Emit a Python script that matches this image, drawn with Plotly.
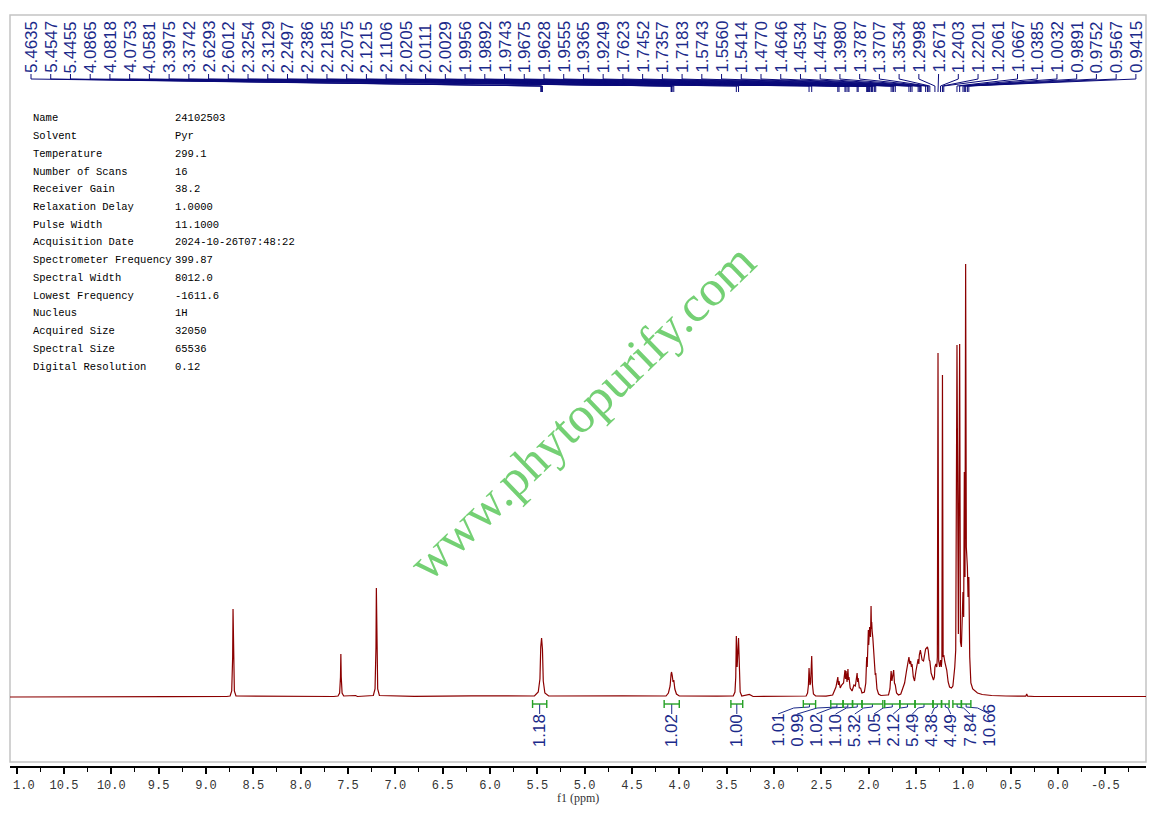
import plotly.graph_objects as go

# --- data -----------------------------------------------------------------
# peak picking list (ppm)
peak_shifts = [5.4635, 5.4547, 5.4455, 4.0865, 4.0818, 4.0753, 4.0581, 3.3975, 3.3742,
               2.6293, 2.6012, 2.3254, 2.3129, 2.2497, 2.2386, 2.2185, 2.2075, 2.1215,
               2.1106, 2.0205, 2.0111, 2.0029, 1.9956, 1.9892, 1.9743, 1.9675, 1.9628,
               1.9555, 1.9365, 1.9249, 1.7623, 1.7452, 1.7357, 1.7183, 1.5743, 1.5560,
               1.5414, 1.4770, 1.4646, 1.4534, 1.4457, 1.3980, 1.3787, 1.3707, 1.3534,
               1.2998, 1.2671, 1.2403, 1.2201, 1.2061, 1.0667, 1.0385, 1.0032, 0.9891,
               0.9752, 0.9567, 0.9415]

# spectrum outline (ppm, intensity) read point by point
spec_ppm = [11.07, 10.20, 9.40, 8.78,
            8.745, 8.728, 8.718, 8.714, 8.710, 8.700, 8.683, 8.20,
            7.65, 7.605, 7.588, 7.579, 7.575, 7.571, 7.562, 7.545,
            7.42, 7.40, 7.26,
            7.232, 7.214, 7.204, 7.200, 7.196, 7.186, 7.168,
            6.80, 6.20, 5.80,
            5.53, 5.49, 5.472, 5.4635, 5.4547, 5.4455, 5.437, 5.42, 5.38,
            4.60,
            4.14, 4.115, 4.097, 4.0865, 4.0818, 4.0753, 4.066, 4.0581, 4.047, 4.03, 4.00,
            3.60,
            3.43, 3.412, 3.4035, 3.3975, 3.389, 3.3742, 3.366, 3.357, 3.34,
            3.26, 3.22, 2.70,
            2.66, 2.645, 2.636, 2.6293, 2.620, 2.613, 2.6012, 2.593, 2.583, 2.56,
            2.45, 2.38, 2.36, 2.345, 2.3254, 2.319, 2.3129, 2.300, 2.285, 2.265,
            2.2497, 2.244, 2.2386, 2.228, 2.2185, 2.213, 2.2075, 2.195, 2.175, 2.155,
            2.140, 2.1215, 2.116, 2.1106, 2.098, 2.085, 2.070,
            2.045, 2.030, 2.0205, 2.015, 2.0111, 2.0029, 1.999, 1.9956, 1.9892, 1.980,
            1.9743, 1.970, 1.9675, 1.9628, 1.9555, 1.945, 1.9365, 1.930, 1.9249, 1.912,
            1.895, 1.870, 1.800,
            1.790, 1.775, 1.7623, 1.754, 1.7452, 1.7357, 1.727, 1.7183, 1.705, 1.685,
            1.660, 1.640, 1.620, 1.600, 1.5743, 1.565, 1.5560, 1.548, 1.5414, 1.528,
            1.515, 1.500, 1.4770, 1.470, 1.4646, 1.4534, 1.4457, 1.435, 1.420,
            1.3980, 1.3787, 1.3707, 1.360, 1.3534, 1.340, 1.330, 1.315, 1.305, 1.2998,
            1.290, 1.280, 1.274, 1.2671, 1.260, 1.250, 1.2403, 1.232, 1.226, 1.2201,
            1.213, 1.2061, 1.195, 1.175, 1.160, 1.145, 1.125, 1.110, 1.090, 1.080,
            1.0667, 1.058, 1.052, 1.0385, 1.030, 1.020, 1.0032, 0.996, 0.9891, 0.982,
            0.9752, 0.968, 0.9567, 0.950, 0.9415, 0.932, 0.920, 0.900, 0.880, 0.850,
            0.800, 0.700, 0.550, 0.400, 0.340, 0.330, 0.320, 0.250, 0.000, -0.93]
spec_int = [0, 0.5, 0.3, 0.5,
            1, 6, 40, 88, 40, 6, 1, 0.6,
            0.5, 1, 4, 20, 43, 20, 4, 1,
            1.5, 0.5, 0.8,
            1.5, 8, 50, 109, 50, 8, 1.5,
            0.6, 1.2, 1.2,
            1, 5, 18, 50, 59, 48, 16, 4, 1,
            1.2,
            1, 4, 11, 23, 25, 22, 15, 17, 8, 3, 1,
            0.8,
            1, 5, 20, 61, 30, 59, 20, 5, 1,
            2.5, 0.5, 0.5,
            1, 4, 12, 29, 12, 14, 41, 12, 3, 1,
            0.8, 2, 6, 10, 20, 12, 16, 9, 12, 14,
            27, 18, 26, 15, 28, 17, 20, 9, 6, 12,
            11, 24, 15, 19, 9, 9, 4,
            5, 14, 40, 30, 50, 67, 52, 62, 70, 60,
            91, 68, 75, 66, 59, 40, 31, 22, 24, 8,
            3, 1.5, 2,
            2, 8, 26, 16, 25, 27, 14, 12, 4, 2,
            3, 8, 14, 26, 40, 33, 36, 30, 33, 20,
            16, 26, 38, 33, 42, 47, 44, 37, 36,
            48, 50, 47, 37, 36, 24, 20, 17, 20, 30,
            33, 30, 40, 344, 36, 30, 37, 30, 38, 322,
            40, 42, 35, 27, 15, 10, 9, 11, 30, 47,
            352, 66, 63, 353, 55, 50, 105, 80, 225, 120,
            433, 150, 130, 100, 120, 40, 14, 8, 6, 4,
            2.5, 1.5, 1, 0.5, 0.8, 3, 0.8, 0.5, 0.5, 0.5]

# integrals: value and ppm limits
integral_values = ["1.18", "1.02", "1.00", "1.01", "0.99", "1.02", "1.10", "5.32", "1.05",
                   "2.12", "5.49", "4.38", "4.49", "7.84", "10.66"]
integral_from = [5.55, 4.16, 3.455, 2.69, 2.40, 2.27, 2.17, 2.07, 1.83, 1.67, 1.51, 1.32, 1.23, 1.11, 1.02]
integral_to = [5.40, 4.00, 3.33, 2.56, 2.27, 2.17, 2.07, 1.85, 1.67, 1.51, 1.32, 1.23, 1.15, 1.02, 0.92]

# axis ticks (the 11.0 label shows only as "1.0", cut by the frame in the original)
tick_vals = [11.0, 10.5, 10.0, 9.5, 9.0, 8.5, 8.0, 7.5, 7.0, 6.5, 6.0, 5.5, 5.0,
             4.5, 4.0, 3.5, 3.0, 2.5, 2.0, 1.5, 1.0, 0.5, 0.0, -0.5]
tick_text = ["1.0", "10.5", "10.0", "9.5", "9.0", "8.5", "8.0", "7.5", "7.0", "6.5",
             "6.0", "5.5", "5.0", "4.5", "4.0", "3.5", "3.0", "2.5", "2.0", "1.5", "1.0",
             "0.5", "0.0", "-0.5"]

# acquisition parameters
param_names = ["Name", "Solvent", "Temperature", "Number of Scans", "Receiver Gain",
               "Relaxation Delay", "Pulse Width", "Acquisition Date", "Spectrometer Frequency",
               "Spectral Width", "Lowest Frequency", "Nucleus", "Acquired Size",
               "Spectral Size", "Digital Resolution"]
param_values = ["24102503", "Pyr", "299.1", "16", "38.2", "1.0000", "11.1000",
                "2024-10-26T07:48:22", "399.87", "8012.0", "-1611.6", "1H", "32050",
                "65536", "0.12"]

# --- layout helpers -------------------------------------------------------
# the page body keeps its default 8px margin, so the figure is 16px smaller
OFF = 8
W, H = 1156 - 2 * OFF, 813 - 2 * OFF
X_RANGE = [11.07, -0.93]
PLOT_L, PLOT_R = 10, 1146      # frame edges in page pixels
BASE_Y = 697                   # spectrum baseline in page pixels


def px_to_ppm(px):
    return X_RANGE[0] + (px - PLOT_L) / (PLOT_R - PLOT_L) * (X_RANGE[1] - X_RANGE[0])


def fx(px):
    return (px - OFF) / W


def fy(py):
    return (H + OFF - py) / H


BLUE = "#1b2a8a"
GREEN = "#24a024"
LABEL_FONT = dict(family="Liberation Sans", size=17, color=BLUE)
TICK_FONT = dict(family="Liberation Mono", size=12, color="#333333")

fig = go.Figure()

# spectrum
fig.add_trace(go.Scatter(x=spec_ppm, y=spec_int, mode="lines",
                         line=dict(color="#8b0000", width=1.2),
                         xaxis="x", yaxis="y", hoverinfo="skip"))

annotations = []

# peak labels along the top and the connecting fan
fan_x, fan_y = [], []
for i, p in enumerate(peak_shifts):
    slot = px_to_ppm(31 + i * 19.73)
    fan_x += [slot, slot, p, p, None]
    fan_y += [74, 79, 86, 92, None]
    annotations.append(dict(x=slot, y=74, xref="x", yref="y2", text="%.4f" % p,
                            textangle=-90, xanchor="center", yanchor="bottom",
                            showarrow=False, font=LABEL_FONT, borderpad=0))
fig.add_trace(go.Scatter(x=fan_x, y=fan_y, mode="lines", line=dict(color="#0b0b7a", width=1),
                         xaxis="x", yaxis="y2", hoverinfo="skip"))

# integral brackets, connectors and values
br_x, br_y, con_x, con_y = [], [], [], []
for k, (a, b, v) in enumerate(zip(integral_from, integral_to, integral_values)):
    c = (a + b) / 2
    br_x += [a, a, None, a, b, None, b, b, None]
    br_y += [700, 708, None, 704, 704, None, 700, 708, None]
    if k < 3:
        slot = c
        con_x += [c, c, None]
        con_y += [704, 714, None]
    else:
        slot = px_to_ppm(778 + (k - 3) * 19.2)
        con_x += [c, c, (c + slot) / 2, slot, None]
        con_y += [704, 707, 708, 714, None]
    annotations.append(dict(x=slot, y=748, xref="x", yref="y2", text=v, textangle=-90,
                            xanchor="center", yanchor="bottom", showarrow=False,
                            font=LABEL_FONT, borderpad=0))
fig.add_trace(go.Scatter(x=con_x, y=con_y, mode="lines", line=dict(color=BLUE, width=1),
                         xaxis="x", yaxis="y2", hoverinfo="skip"))
fig.add_trace(go.Scatter(x=br_x, y=br_y, mode="lines", line=dict(color=GREEN, width=1.4),
                         xaxis="x", yaxis="y2", hoverinfo="skip"))

# parameter table
for r, (n, v) in enumerate(zip(param_names, param_values)):
    yy = 118.3 + r * 17.74
    for xx, t in ((31, n), (173, v)):
        annotations.append(dict(x=fx(xx), y=yy, xref="paper", yref="y2", text=t,
                                xanchor="left", yanchor="middle", showarrow=False,
                                font=dict(family="Liberation Mono", size=10.5, color="#000000")))

# the clipped first tick label sits flush with the frame
annotations.append(dict(x=fx(11), y=785.5, xref="paper", yref="y2", text=tick_text[0],
                        xanchor="left", yanchor="middle", showarrow=False, font=TICK_FONT))

# axis title and watermark
annotations.append(dict(x=fx(578), y=798, xref="paper", yref="y2", text="f1 (ppm)",
                        showarrow=False, xanchor="center", yanchor="middle",
                        font=dict(family="Liberation Serif", size=12, color="#333333")))
annotations.append(dict(x=fx(582), y=412, xref="paper", yref="y2", text="www.phytopurify.com",
                        textangle=-44, showarrow=False, xanchor="center", yanchor="middle",
                        font=dict(family="Liberation Serif", size=51, color="#74d074")))

fig.update_layout(
    width=W, height=H,
    margin=dict(l=0, r=0, t=0, b=0),
    paper_bgcolor="white", plot_bgcolor="rgba(0,0,0,0)",
    showlegend=False,
    xaxis=dict(range=X_RANGE, domain=[fx(PLOT_L), fx(PLOT_R)], anchor="free",
               position=fy(767.3), automargin=False, showline=True, linewidth=2,
               linecolor="black", ticks="outside", ticklen=6, tickwidth=1.5,
               tickcolor="black", tickmode="array", tickvals=tick_vals,
               ticktext=[""] + tick_text[1:], tickfont=TICK_FONT,
               minor=dict(tickmode="linear", tick0=0, dtick=0.25, ticks="outside",
                          ticklen=3.5, tickwidth=1.2, tickcolor="black"),
               showgrid=False, zeroline=False),
    yaxis=dict(range=[-(H + OFF - BASE_Y), BASE_Y - OFF], domain=[0, 1], visible=False,
               automargin=False, fixedrange=True),
    yaxis2=dict(range=[H + OFF, OFF], domain=[0, 1], overlaying="y", visible=False,
                automargin=False, fixedrange=True),
    annotations=annotations,
    shapes=[dict(type="rect", xref="paper", yref="paper", x0=fx(PLOT_L), x1=fx(PLOT_R),
                 y0=fy(762), y1=fy(15), line=dict(color="#c4c4c4", width=1.5),
                 layer="below")],
)

fig.write_html("out.html", config={"displayModeBar": False})
